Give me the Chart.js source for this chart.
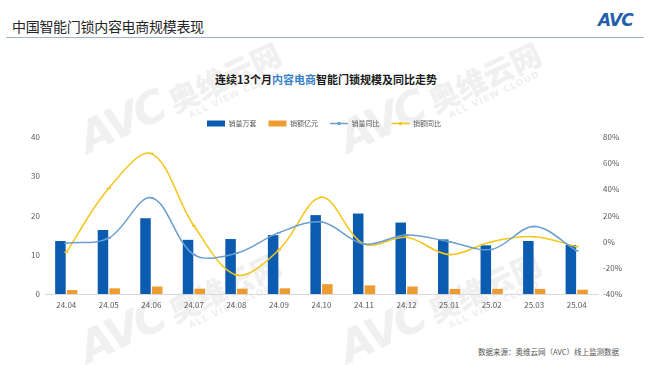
<!DOCTYPE html>
<html>
<head>
<meta charset="utf-8">
<script src="https://cdn.jsdelivr.net/npm/chart.js@4.4.1/dist/chart.umd.min.js"></script>
<style>
  body { margin: 0; background: #fff; font-family: "Noto Sans CJK SC", "Noto Sans", sans-serif; }
  #page { position: relative; width: 648px; height: 365px; overflow: hidden; }
  .title { position: absolute; left: 12px; top: 16px; font-size: 14px; color: #262626; letter-spacing: -0.3px; }
  .rule { position: absolute; left: 6px; right: 4px; top: 37px; height: 1px; background: #9fb4c7; }
  .logo { position: absolute; left: 598px; top: 10px; font: italic bold 17px "DejaVu Sans", sans-serif; color: #1f5fae; letter-spacing: -1px; }
  .subtitle { position: absolute; left: 0; width: 652px; top: 71px; text-align: center; font-size: 11px; font-weight: bold; color: #1a1a1a; }
  .subtitle span { color: #3a7fc8; }
  .source { position: absolute; left: 478px; top: 346px; font-size: 7.5px; color: #555; }
  .wm { position: absolute; transform: rotate(-25deg); transform-origin: left bottom; color: rgba(190,190,190,0.24); white-space: nowrap; }
  .wm b { font: italic 900 44px "DejaVu Sans", sans-serif; letter-spacing: -3px; }
  .wm i { font-style: normal; font-weight: 900; font-size: 30px; margin-left: 8px; }
  .wm small { position: absolute; left: 108px; top: 44px; font: bold 9px "DejaVu Sans", sans-serif; letter-spacing: 1px; }
  #wrap { position: absolute; left: 0; top: 100px; width: 648px; height: 220px; }
</style>
</head>
<body>
<div id="page">
  <div class="wm" style="left:92px;top:112px;"><b>AVC</b><i>奥维云网</i><small>ALL VIEW CLOUD</small></div>
  <div class="wm" style="left:352px;top:112px;"><b>AVC</b><i>奥维云网</i><small>ALL VIEW CLOUD</small></div>
  <div class="wm" style="left:92px;top:322px;"><b>AVC</b><i>奥维云网</i><small>ALL VIEW CLOUD</small></div>
  <div class="wm" style="left:352px;top:322px;"><b>AVC</b><i>奥维云网</i><small>ALL VIEW CLOUD</small></div>
  <div class="title">中国智能门锁内容电商规模表现</div>
  <div class="rule"></div>
  <div class="logo">AVC</div>
  <div class="subtitle">连续13个月<span>内容电商</span>智能门锁规模及同比走势</div>
  <div id="wrap"><canvas id="chart"></canvas></div>
  <div class="source">数据来源：奥维云网（AVC）线上监测数据</div>
</div>
<script>
const months = ["24.04", "24.05", "24.06", "24.07", "24.08", "24.09", "24.10", "24.11", "24.12", "25.01", "25.02", "25.03", "25.04"];
const volume = [13.5, 16.3, 19.3, 13.8, 14.0, 15.0, 20.1, 20.5, 18.2, 13.9, 12.4, 13.5, 12.5];
const sales = [1.0, 1.45, 1.9, 1.35, 1.35, 1.45, 2.5, 2.2, 1.9, 1.3, 1.3, 1.3, 1.1];
const volumeYoy = [-1.2, 2.8, 33.6, -9.9, -8.9, 6.9, 15.0, -1.8, 5.1, 0.0, -5.9, 11.5, -6.9];
const salesYoy = [-8.1, 40.8, 67.3, 12.2, -25.5, -6.3, 33.9, -1.8, 3.3, -9.9, 0.0, 3.8, -3.8];
const leftTicks = [0, 10, 20, 30, 40];
const rightTicks = [-40, -20, 0, 20, 40, 60, 80];

const tickFont = { family: "'Noto Sans CJK SC', sans-serif", size: 8 };

// little dot in the middle of the line legend markers
const legendDots = {
  id: "legendDots",
  afterDraw(chart) {
    const lg = chart.legend;
    if (!lg || !lg.legendHitBoxes) return;
    const ctx = chart.ctx;
    lg.legendItems.forEach((item, i) => {
      const ds = chart.data.datasets[item.datasetIndex];
      if (ds.type !== "line") return;
      const box = lg.legendHitBoxes[i];
      ctx.save();
      ctx.fillStyle = ds.borderColor;
      ctx.beginPath();
      ctx.arc(box.left + 9, box.top + box.height / 2, 1.8, 0, Math.PI * 2);
      ctx.fill();
      ctx.restore();
    });
  }
};

new Chart(document.getElementById("chart"), {
  data: {
    labels: months,
    datasets: [
      {
        type: "bar", label: "销量万套", data: volume, yAxisID: "y",
        backgroundColor: "#0b5bb0", order: 2,
        categoryPercentage: 0.55, barPercentage: 0.9, pointStyle: "rect"
      },
      {
        type: "bar", label: "销额亿元", data: sales, yAxisID: "y",
        backgroundColor: "#ee9b32", order: 2,
        categoryPercentage: 0.55, barPercentage: 0.9, pointStyle: "rect"
      },
      {
        type: "line", label: "销量同比", data: volumeYoy, yAxisID: "y1",
        borderColor: "#6a9fd0", backgroundColor: "#6a9fd0", borderWidth: 1.5,
        pointRadius: 2, pointBackgroundColor: "#6a9fd0",
        tension: 0.35, order: 1, pointStyle: "line"
      },
      {
        type: "line", label: "销额同比", data: salesYoy, yAxisID: "y1",
        borderColor: "#f5c518", backgroundColor: "#f5c518", borderWidth: 1.5,
        pointRadius: 2, pointBackgroundColor: "#f5c518",
        tension: 0.35, order: 1, pointStyle: "line"
      }
    ]
  },
  options: {
    responsive: true,
    maintainAspectRatio: false,
    animation: false,
    layout: { padding: { top: 8, bottom: 0, left: 0, right: 0 } },
    plugins: {
      legend: {
        position: "top",
        labels: {
          usePointStyle: true,
          pointStyleWidth: 18,
          boxWidth: 18,
          boxHeight: 6,
          padding: 12,
          color: "#595959",
          font: { family: "'Noto Sans CJK SC', sans-serif", size: 7 },
          sort: (a, b) => a.datasetIndex - b.datasetIndex
        }
      },
      tooltip: { enabled: false }
    },
    scales: {
      x: {
        grid: { display: false, drawTicks: false },
        border: { color: "#d9d9d9" },
        ticks: { color: "#595959", font: tickFont, padding: 6 },
        afterFit(s) { s.height = 26; }
      },
      y: {
        position: "left",
        min: 0, max: 40,
        afterBuildTicks(s) { s.ticks = leftTicks.map(v => ({ value: v })); },
        grid: { display: false, drawTicks: false },
        border: { display: false },
        ticks: { color: "#595959", font: tickFont, padding: 5 },
        afterFit(s) { s.width = 45; }
      },
      y1: {
        position: "right",
        min: -40, max: 80,
        afterBuildTicks(s) { s.ticks = rightTicks.map(v => ({ value: v })); },
        grid: { display: false, drawTicks: false },
        border: { display: false },
        ticks: { color: "#595959", font: tickFont, padding: 5, callback: v => v + "%" },
        afterFit(s) { s.width = 50; }
      }
    }
  },
  plugins: [legendDots]
});
</script>
</body>
</html>
